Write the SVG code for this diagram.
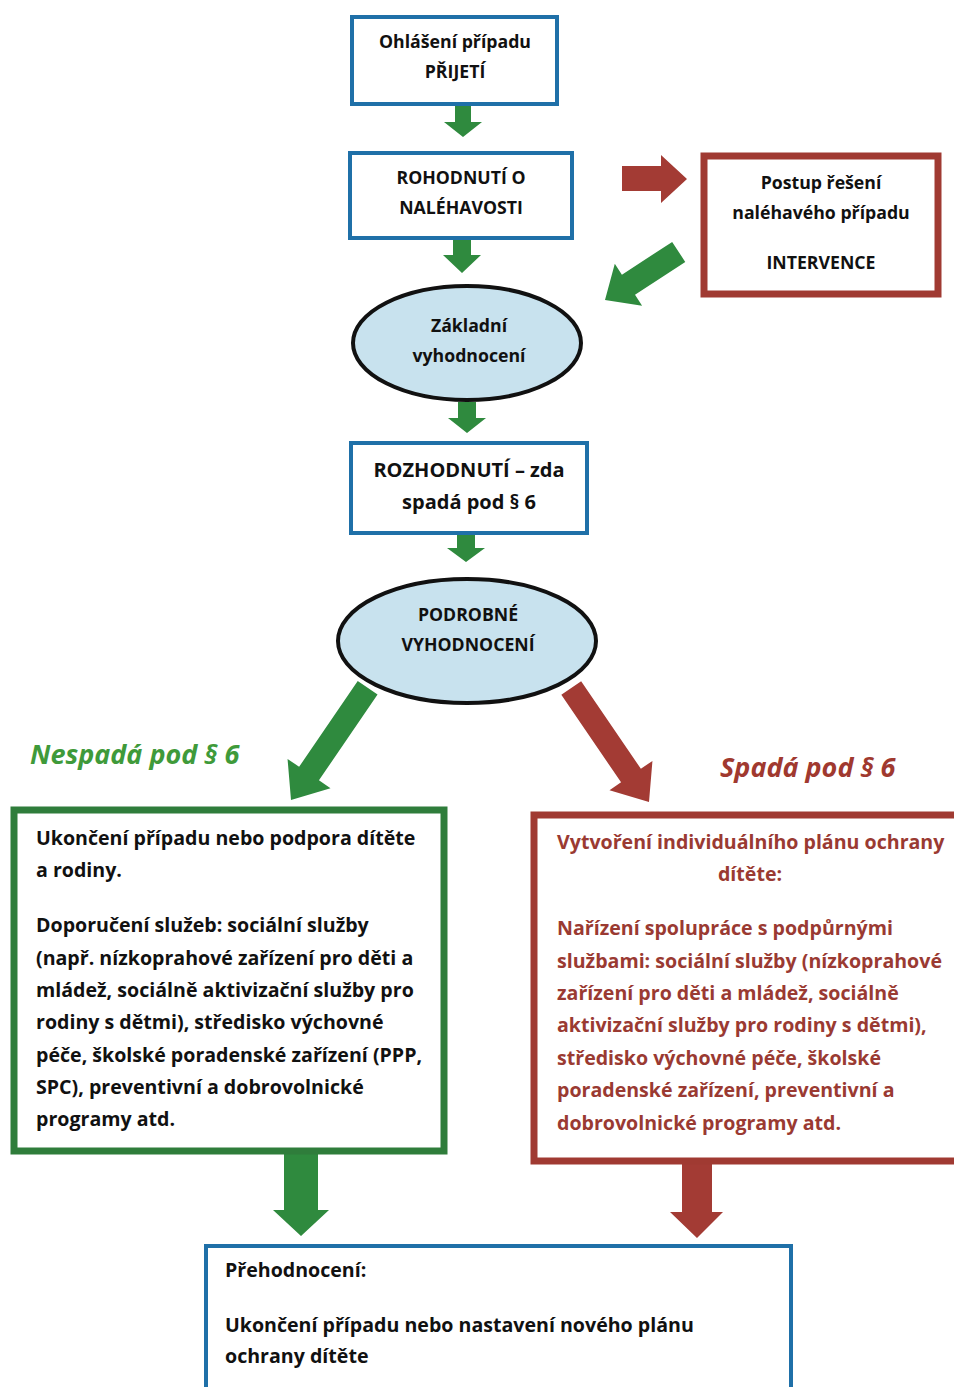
<svg xmlns="http://www.w3.org/2000/svg" width="954" height="1387" viewBox="0 0 954 1387">
<style>
  .t { font-family: "Open Sans", Lato, "Liberation Sans", sans-serif; font-weight: bold; fill: #111; }
  .s { font-size: 17.7px; }
  .m { font-size: 19.6px; }
  .red { fill: #9a3a32; }
  .bbox { fill: #fff; stroke: #1f70a8; stroke-width: 4; }
  .rbox { fill: #fff; stroke: #a03a32; stroke-width: 7; }
  .gbox { fill: #fff; stroke: #2f7d3b; stroke-width: 7; }
  .ell { fill: #c8e2ee; stroke: #111; stroke-width: 4; }
  .ga { fill: #2f8a3e; }
  .ra { fill: #a33b34; }
  .lab { font-family: "Open Sans", Lato, "Liberation Sans", sans-serif; font-weight: bold; font-style: italic; font-size: 27px; }
</style>
<rect width="954" height="1387" fill="#fff"/>

<g id="connectors">
  <polygon class="ga" points="455,104 471,104 471,122 482,122 463,137 444,122 455,122"/>
  <polygon class="ga" points="453,238 471,238 471,255 481,255 462,273 443,255 453,255"/>
  <polygon class="ga" points="458,402 476,402 476,418 486,418 467,433 448,418 458,418"/>
  <polygon class="ga" points="457,533 475,533 475,548 485,548 466,562 447,548 457,548"/>
  <polygon class="ra" points="622,166 661,166 661,155 687,179 661,203 661,191 622,191"/>
  <polygon class="ga" transform="translate(605,300) rotate(146.9)" points="-88,-12 -28,-12 -28,-25 0,0 -28,25 -28,12 -88,12"/>
  <polygon class="ga" transform="translate(291,800) rotate(124.3)" points="-136,-12 -32,-12 -32,-26 0,0 -32,26 -32,12 -136,12"/>
  <polygon class="ra" transform="translate(649,802) rotate(55.7)" points="-138,-12 -32,-12 -32,-26 0,0 -32,26 -32,12 -138,12"/>
  <polygon class="ga" points="284,1152 318,1152 318,1210 329,1210 301,1236 273,1210 284,1210"/>
  <polygon class="ra" points="682,1163 712,1163 712,1212 723,1212 697,1238 670,1212 682,1212"/>
</g>

<g id="n1">
  <rect class="bbox" x="352" y="17" width="205" height="87"/>
  <text class="t s" x="455" y="48" text-anchor="middle">Ohlášení případu</text>
  <text class="t s" x="455" y="78" text-anchor="middle">PŘIJETÍ</text>
</g>
<g id="n2">
  <rect class="bbox" x="350" y="153" width="222" height="85"/>
  <text class="t s" x="461" y="184" text-anchor="middle">ROHODNUTÍ O</text>
  <text class="t s" x="461" y="214" text-anchor="middle">NALÉHAVOSTI</text>
</g>
<g id="n3">
  <rect class="rbox" x="704" y="156" width="234" height="138"/>
  <text class="t s" x="821" y="189" text-anchor="middle">Postup řešení</text>
  <text class="t s" x="821" y="219" text-anchor="middle">naléhavého případu</text>
  <text class="t s" x="821" y="269" text-anchor="middle">INTERVENCE</text>
</g>
<g id="n4">
  <ellipse class="ell" cx="467" cy="343" rx="114" ry="57"/>
  <text class="t s" x="469" y="332" text-anchor="middle">Základní</text>
  <text class="t s" x="469" y="362" text-anchor="middle">vyhodnocení</text>
</g>
<g id="n5">
  <rect class="bbox" x="351" y="443" width="236" height="90"/>
  <text class="t" font-size="20" x="469" y="477" text-anchor="middle">ROZHODNUTÍ – zda</text>
  <text class="t" font-size="20" x="469" y="509" text-anchor="middle">spadá pod § 6</text>
</g>
<g id="n6">
  <ellipse class="ell" cx="467" cy="641" rx="129" ry="62"/>
  <text class="t s" x="468" y="621" text-anchor="middle">PODROBNÉ</text>
  <text class="t s" x="468" y="651" text-anchor="middle">VYHODNOCENÍ</text>
</g>

<text class="lab" x="30" y="764" fill="#3f9a3a">Nespadá pod § 6</text>
<text class="lab" x="720" y="777" fill="#a0392f">Spadá pod § 6</text>

<g id="n7">
  <rect class="gbox" x="14" y="810" width="430" height="341"/>
  <text class="t m" x="36" y="845">Ukončení případu nebo podpora dítěte</text>
  <text class="t m" x="36" y="877">a rodiny.</text>
  <text class="t m" x="36" y="932">Doporučení služeb: sociální služby</text>
  <text class="t m" x="36" y="965">(např. nízkoprahové zařízení pro děti a</text>
  <text class="t m" x="36" y="997">mládež, sociálně aktivizační služby pro</text>
  <text class="t m" x="36" y="1029">rodiny s dětmi), středisko výchovné</text>
  <text class="t m" x="36" y="1062">péče, školské poradenské zařízení (PPP,</text>
  <text class="t m" x="36" y="1094">SPC), preventivní a dobrovolnické</text>
  <text class="t m" x="36" y="1126">programy atd.</text>
</g>
<g id="n8">
  <rect class="rbox" x="534" y="815" width="430" height="346"/>
  <text class="t m red" x="557" y="849">Vytvoření individuálního plánu ochrany</text>
  <text class="t m red" x="750" y="881" text-anchor="middle">dítěte:</text>
  <text class="t m red" x="557" y="935">Nařízení spolupráce s podpůrnými</text>
  <text class="t m red" x="557" y="968">službami: sociální služby (nízkoprahové</text>
  <text class="t m red" x="557" y="1000">zařízení pro děti a mládež, sociálně</text>
  <text class="t m red" x="557" y="1032">aktivizační služby pro rodiny s dětmi),</text>
  <text class="t m red" x="557" y="1065">středisko výchovné péče, školské</text>
  <text class="t m red" x="557" y="1097">poradenské zařízení, preventivní a</text>
  <text class="t m red" x="557" y="1130">dobrovolnické programy atd.</text>
</g>
<g id="n9">
  <rect class="bbox" x="206" y="1246" width="585" height="150"/>
  <text class="t m" x="225" y="1277">Přehodnocení:</text>
  <text class="t m" x="225" y="1332">Ukončení případu nebo nastavení nového plánu</text>
  <text class="t m" x="225" y="1363">ochrany dítěte</text>
</g>
</svg>
